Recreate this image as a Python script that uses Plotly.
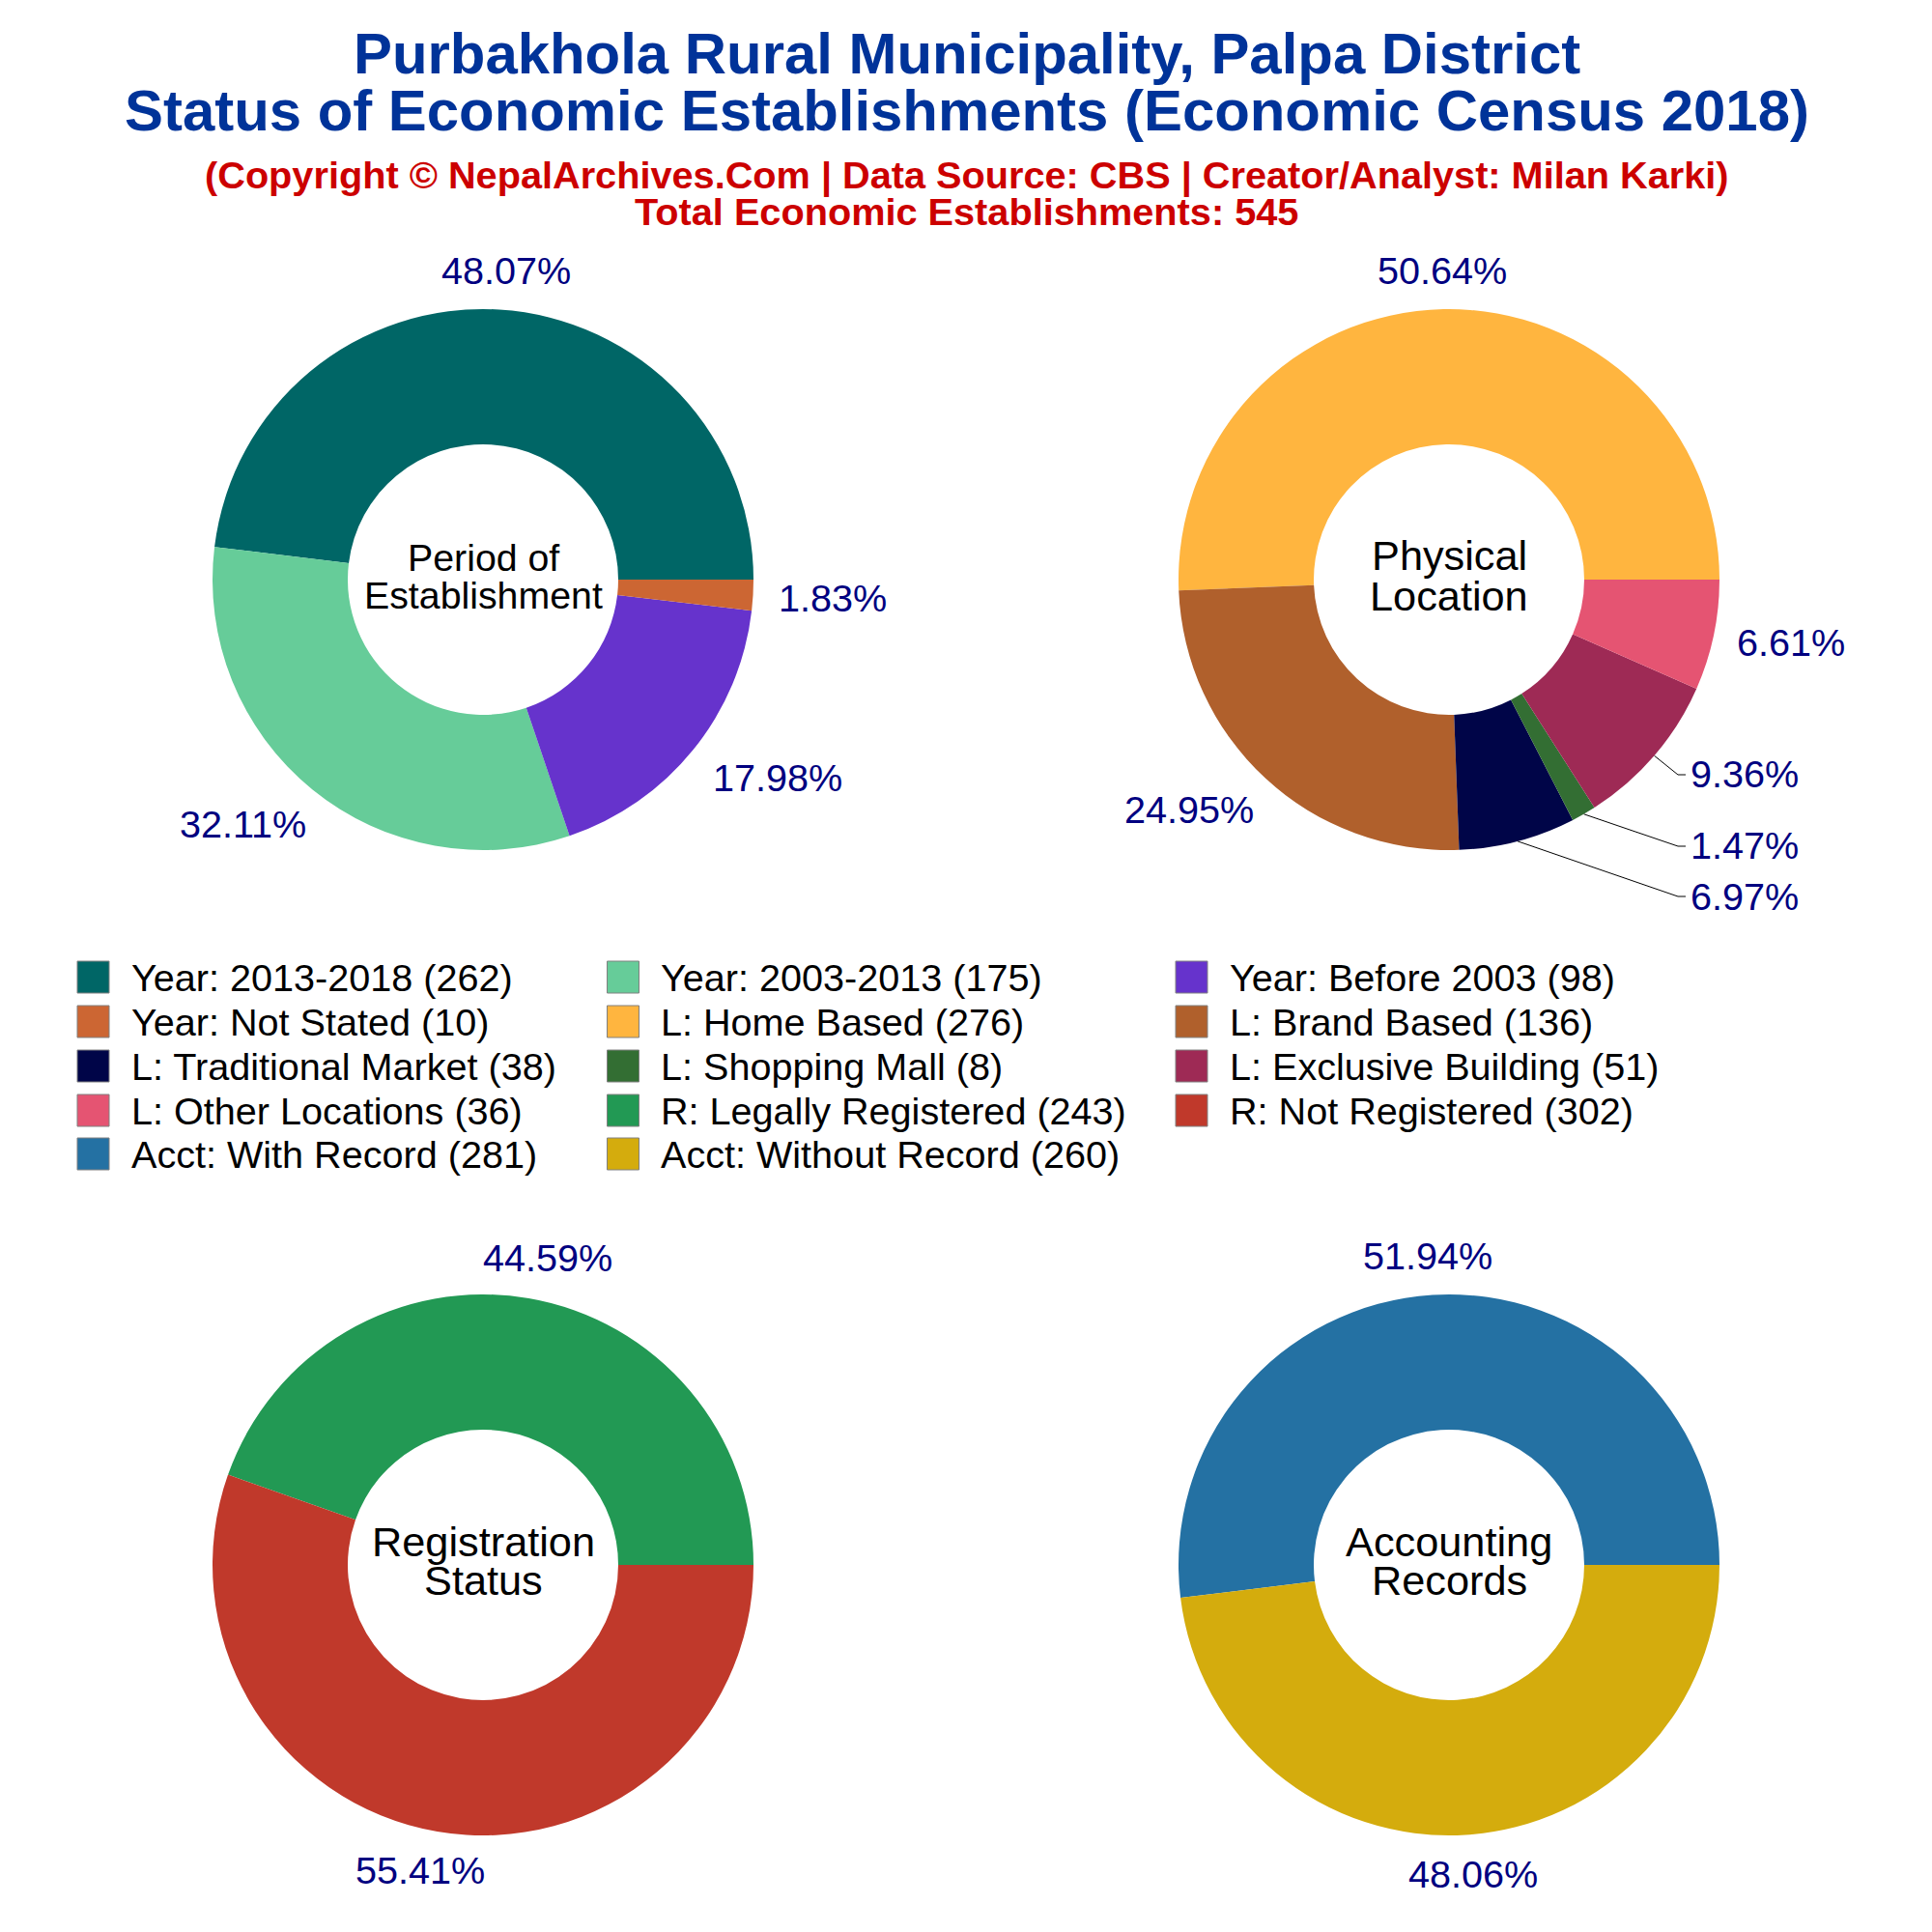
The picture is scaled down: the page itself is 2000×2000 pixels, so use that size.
import math
import plotly.graph_objects as go

# ---- data ----
period_labels = ["Year: 2013-2018", "Year: 2003-2013", "Year: Before 2003", "Year: Not Stated"]
period_values = [262, 175, 98, 10]
location_labels = ["L: Home Based", "L: Brand Based", "L: Traditional Market", "L: Shopping Mall",
                   "L: Exclusive Building", "L: Other Locations"]
location_values = [276, 136, 38, 8, 51, 36]
registration_labels = ["R: Legally Registered", "R: Not Registered"]
registration_values = [243, 302]
accounting_labels = ["Acct: With Record", "Acct: Without Record"]
accounting_values = [281, 260]

period_colors = ["#006666", "#66CC99", "#6633CC", "#CC6633"]
location_colors = ["#FFB53F", "#B0602C", "#000548", "#336E33", "#9E2A55", "#E55472"]
registration_colors = ["#229954", "#C0392B"]
accounting_colors = ["#2471A3", "#D4AC0D"]

title_lines = ["Purbakhola Rural Municipality, Palpa District",
               "Status of Economic Establishments (Economic Census 2018)"]
subtitle_lines = ["(Copyright © NepalArchives.Com | Data Source: CBS | Creator/Analyst: Milan Karki)",
                  "Total Economic Establishments: 545"]

# ---- layout constants (pixels in a 2000x2000 canvas) ----
W = H = 2000
R = 280
FONT = "Liberation Sans"
PIES = [
    dict(labels=period_labels, values=period_values, colors=period_colors, c=(500, 600),
         center=["Period of", "Establishment"], cs=39.3, cy=(577, 616),
         pos=[(523.5, 279.5), (251, 853.5), (805, 805), (862, 619)], leaders=[]),
    dict(labels=location_labels, values=location_values, colors=location_colors, c=(1500, 600),
         center=["Physical", "Location"], cs=43.3, cy=(575, 617),
         pos=[(1493, 279.5), (1231, 838), (1805.5, 928), (1805.5, 874.5), (1805.5, 800.5), (1854, 665)],
         leaders=[(2, 928), (3, 876), (4, 802)]),
    dict(labels=registration_labels, values=registration_values, colors=registration_colors, c=(500, 1620),
         center=["Registration", "Status"], cs=43.3, cy=(1596, 1636),
         pos=[(566.5, 1302), (435, 1936)], leaders=[]),
    dict(labels=accounting_labels, values=accounting_values, colors=accounting_colors, c=(1500, 1620),
         center=["Accounting", "Records"], cs=43.3, cy=(1596, 1636),
         pos=[(1477.5, 1300), (1525, 1940)], leaders=[]),
]
LEG_COLS = [(80, 133.5), (628.5, 682), (1217, 1271)]
LEG_ROWS = [995, 1041, 1087, 1133, 1178]
SW_W, SW_H = 33, 33
LEADER_ELBOW_X, LEADER_END_X = 1737, 1745


def px(x):
    return x / W


def py(y):
    return 1 - y / H


def text(x, y, s, size, color, **kw):
    return dict(x=px(x), y=py(y), xref="paper", yref="paper", text=s, showarrow=False,
                font=dict(family=FONT, size=size, color=color), xanchor=kw.get("xanchor", "center"),
                yanchor="middle", align="center")


fig = go.Figure()
annotations = []
shapes = []

for p in PIES:
    cx, cy = p["c"]
    total = sum(p["values"])
    fig.add_trace(go.Pie(
        labels=p["labels"], values=p["values"], sort=False, direction="counterclockwise",
        # plotly lays the first slice clockwise from `rotation`; this puts its far edge at 3 o'clock
        rotation=90 - 360 * p["values"][0] / total,
        hole=0.5, textinfo="none", hoverinfo="label+value+percent", showlegend=False,
        marker=dict(colors=p["colors"], line=dict(width=0)),
        domain=dict(x=[px(cx - R), px(cx + R)], y=[py(cy + R), py(cy - R)]),
    ))
    for v, (lx, ly) in zip(p["values"], p["pos"]):
        annotations.append(text(lx, ly, f"{100 * v / total:.2f}%", 39.6, "#000080"))
    for line, ly in zip(p["center"], p["cy"]):
        annotations.append(text(cx, ly, line, p["cs"], "#000000"))
    for idx, ly in p["leaders"]:
        cum = sum(p["values"][:idx]) + p["values"][idx] / 2
        a = 2 * math.pi * cum / total
        sx, sy = cx + R * math.cos(a), cy - R * math.sin(a)
        shapes.append(dict(type="path", xref="paper", yref="paper", layer="below",
                           path=f"M {px(sx)} {py(sy)} L {px(LEADER_ELBOW_X)} {py(ly)} L {px(LEADER_END_X)} {py(ly)}",
                           line=dict(color="#000000", width=1)))

# titles
for s, y in zip(title_lines, (55.5, 115)):
    annotations.append(text(1001, y, f"<b>{s}</b>", 59.9, "#003399"))
for s, y in zip(subtitle_lines, (181, 219)):
    annotations.append(text(1000.5, y, f"<b>{s}</b>", 39.7, "#CC0000"))

# legend, filled across rows
leg_labels = period_labels + location_labels + registration_labels + accounting_labels
leg_values = period_values + location_values + registration_values + accounting_values
leg_colors = period_colors + location_colors + registration_colors + accounting_colors
for i, (lab, val, col) in enumerate(zip(leg_labels, leg_values, leg_colors)):
    sx, tx = LEG_COLS[i % 3]
    top = LEG_ROWS[i // 3]
    shapes.append(dict(type="rect", xref="paper", yref="paper", x0=px(sx), x1=px(sx + SW_W),
                       y0=py(top + SW_H), y1=py(top), fillcolor=col,
                       line=dict(color="#808080", width=1)))
    annotations.append(text(tx, top + SW_H / 2, f"{lab} ({val})", 39.6, "#000000", xanchor="left"))

fig.update_layout(width=W, height=H, margin=dict(l=0, r=0, t=0, b=0), paper_bgcolor="white",
                  plot_bgcolor="white", annotations=annotations, shapes=shapes, showlegend=False)
fig.write_html("out.html", post_script="document.body.style.margin='0';", config={"displayModeBar": False})
